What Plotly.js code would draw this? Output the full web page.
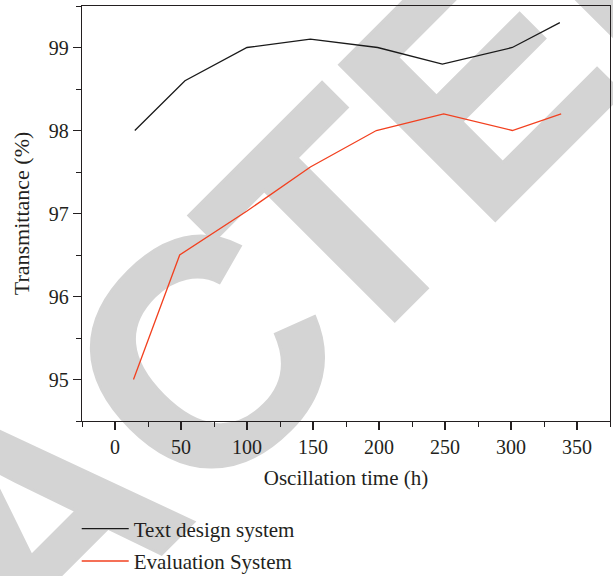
<!DOCTYPE html>
<html>
<head>
<meta charset="utf-8">
<script src="https://cdn.plot.ly/plotly-3.0.1.min.js"></script>
<style>
  html, body { margin: 0; padding: 0; background: #ffffff; }
  #wrap { position: relative; width: 613px; height: 576px; overflow: hidden; }
  #wm { position: absolute; left: 0; top: 0; z-index: 0; }
  #chart { position: absolute; left: 0; top: 0; z-index: 1; }
</style>
</head>
<body>
<div id="wrap">
  <svg id="wm" width="613" height="576">
    <text x="-579.6" y="1295.3" text-anchor="start" transform="rotate(-45 -579.6 1295.3)"
      dx="0 0 0 0 0 0 -30"
      font-family="Liberation Sans, Arial, sans-serif" font-weight="bold" font-size="320"
      fill="#d4d4d4" stroke="#d4d4d4" stroke-width="3" stroke-linejoin="miter">RETRACTED</text>
  </svg>
  <div id="chart"></div>
</div>
<script>
// Data
const seriesNames = ["Text design system", "Evaluation System"];
const textDesignX = [15, 53, 100, 148, 199, 248, 301, 337];
const textDesignY = [98.0, 98.6, 99.0, 99.1, 99.0, 98.8, 99.0, 99.3];
const evaluationX = [14, 49, 100, 148, 198, 249, 301, 338];
const evaluationY = [95.0, 96.5, 97.03, 97.56, 98.0, 98.2, 98.0, 98.2];
const xTickVals = [0, 50, 100, 150, 200, 250, 300, 350];
const yTickVals = [95, 96, 97, 98, 99];

const fam = "Liberation Serif, Times New Roman, serif";
const font = { family: fam, size: 21, color: "#231f20" };
const yTitleFont = { family: fam, size: 22, color: "#231f20" };
const tickFont = { family: fam, size: 20, color: "#231f20" };

const traces = [
  { x: textDesignX, y: textDesignY, name: seriesNames[0], type: "scatter", mode: "lines",
    line: { color: "#1a1a1a", width: 1.3 }, legendgroup: "a" },
  { x: evaluationX, y: evaluationY, name: seriesNames[1], type: "scatter", mode: "lines",
    line: { color: "#f2401f", width: 1.3 }, legendgroup: "b" }
];

const axisCommon = {
  showgrid: false, zeroline: false, showline: true, mirror: true,
  linecolor: "#231f20", linewidth: 1.3,
  ticks: "outside", ticklen: 8, tickwidth: 1.2, tickcolor: "#231f20",
  tickfont: tickFont
};

const layout = {
  width: 613, height: 576,
  margin: { l: 82, r: 3, t: 6, b: 155, autoexpand: false },
  paper_bgcolor: "rgba(0,0,0,0)",
  plot_bgcolor: "rgba(0,0,0,0)",
  font: font,
  showlegend: true,
  xaxis: Object.assign({}, axisCommon, {
    range: [-25, 375], tickvals: xTickVals,
    minor: { dtick: 25, tick0: 0, ticks: "outside", ticklen: 5, tickwidth: 1, tickcolor: "#231f20" },
    title: { text: "Oscillation time (h)", font: font, standoff: 13 }
  }),
  yaxis: Object.assign({}, axisCommon, {
    range: [94.5, 99.5], tickvals: yTickVals,
    minor: { dtick: 0.5, tick0: 0, ticks: "outside", ticklen: 5, tickwidth: 1, tickcolor: "#231f20" },
    title: { text: "Transmittance (%)", font: yTitleFont, standoff: 13 }
  }),
  legend: {
    x: -0.01, xanchor: "left", y: -0.211, yanchor: "top",
    orientation: "v", traceorder: "grouped", tracegroupgap: 2,
    itemwidth: 47, font: font, bgcolor: "rgba(0,0,0,0)"
  }
};

Plotly.newPlot("chart", traces, layout, { displayModeBar: false, staticPlot: true });
</script>
</body>
</html>
